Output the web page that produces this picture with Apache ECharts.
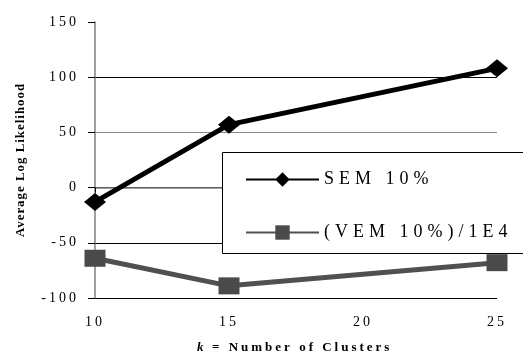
<!DOCTYPE html>
<html>
<head>
<meta charset="utf-8">
<script src="https://cdn.jsdelivr.net/npm/echarts@6/dist/echarts.min.js"></script>
<style>
html,body{margin:0;padding:0;background:#fff;}
#c{width:523px;height:356px;}
</style>
</head>
<body>
<div id="c"></div>
<script>
const kValues = [10, 15, 25];
const semValues = [-13, 57, 108];
const vemValues = [-64, -89, -68];
const seriesNames = ['SEM 10%', '(VEM 10%)/1E4'];
const yAxisTitle = 'Average Log Likelihood';
const xAxisTitleVar = 'k';
const xAxisTitleRest = '= Number of Clusters';

// letter spacing per font size (the reference uses widely tracked type)
(function () {
  const proto = CanvasRenderingContext2D.prototype;
  const desc = Object.getOwnPropertyDescriptor(proto, 'font');
  if (!desc || !('letterSpacing' in proto)) return;
  const spacing = {'18': '5px', '14': '3px', '13': '3px', '12.9': '1px'};
  Object.defineProperty(proto, 'font', {
    configurable: true,
    get() { return desc.get.call(this); },
    set(v) {
      desc.set.call(this, v);
      const m = /([\d.]+)px/.exec(v);
      this.letterSpacing = (m && spacing[m[1]]) || '0px';
    }
  });
})();

const FONT = 'Liberation Serif';
const chart = echarts.init(document.getElementById('c'), null, {renderer: 'canvas'});
chart.setOption({
  animation: false,
  backgroundColor: '#fff',
  grid: {left: 95, right: 26, top: 22, bottom: 58},
  xAxis: {
    type: 'value', min: 10, max: 25, interval: 5,
    axisLine: {show: true, lineStyle: {color: '#808080', width: 1.5}},
    axisTick: {show: true, inside: false, length: 5, lineStyle: {color: '#000'}},
    axisLabel: {fontFamily: FONT, fontSize: 14, color: '#000', margin: 16},
    splitLine: {show: false}
  },
  yAxis: {
    type: 'value', min: -100, max: 150, interval: 50,
    name: yAxisTitle,
    nameLocation: 'middle', nameGap: 67, nameRotate: 90,
    nameTextStyle: {fontFamily: FONT, fontSize: 12.9, fontWeight: 'bold', color: '#000'},
    axisLine: {show: true, lineStyle: {color: '#808080', width: 1.5}},
    axisTick: {show: true, inside: false, length: 7, lineStyle: {color: '#000'}},
    axisLabel: {fontFamily: FONT, fontSize: 14, color: '#000', margin: 16},
    splitLine: {show: true, showMaxLine: false, lineStyle: {color: ['#000', '#000', '#000', '#888', '#000', 'rgba(0,0,0,0)'], width: 1}}
  },
  legend: {
    orient: 'vertical', left: 240, top: 163, padding: 5,
    itemWidth: 73, itemHeight: 18, itemGap: 30,
    textStyle: {fontFamily: FONT, fontSize: 18, color: '#000'},
    data: seriesNames,
    z: 5
  },
  graphic: [
    {
      type: 'rect', z: 4, silent: true,
      shape: {x: 222, y: 152, width: 301, height: 101},
      style: {fill: '#fff', lineWidth: 0}
    },
    {
      type: 'polyline', z: 4, silent: true,
      shape: {points: [[530, 152.5], [222.5, 152.5], [222.5, 253.5], [530, 253.5]]},
      style: {stroke: '#000', lineWidth: 1, fill: null}
    },
    {
      type: 'text', left: 197, top: 340, silent: true,
      style: {text: xAxisTitleVar, fontFamily: FONT, fontSize: 13, fontWeight: 'bold', fontStyle: 'italic', fill: '#000'}
    },
    {
      type: 'text', left: 212, top: 340, silent: true,
      style: {text: xAxisTitleRest, fontFamily: FONT, fontSize: 13, fontWeight: 'bold', fill: '#000'}
    }
  ],
  series: [
    {
      name: seriesNames[0], type: 'line', z: 2,
      data: kValues.map((k, i) => [k, semValues[i]]),
      symbol: 'diamond', symbolSize: [22, 18],
      lineStyle: {color: '#000', width: 5},
      itemStyle: {color: '#000'}
    },
    {
      name: seriesNames[1], type: 'line', z: 2,
      data: kValues.map((k, i) => [k, vemValues[i]]),
      symbol: 'rect', symbolSize: [21, 17],
      lineStyle: {color: '#505050', width: 5},
      itemStyle: {color: '#4a4a4a'}
    }
  ]
});
</script>
</body>
</html>
